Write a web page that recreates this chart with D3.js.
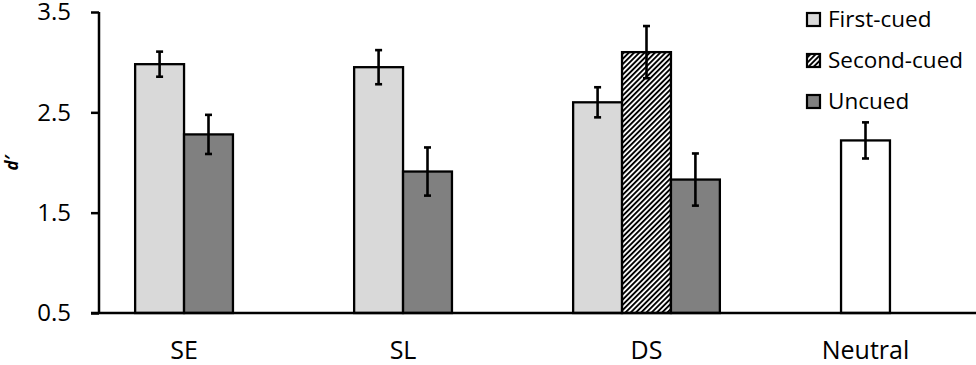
<!DOCTYPE html>
<html>
<head>
<meta charset="utf-8">
<script src="https://cdn.jsdelivr.net/npm/d3@7"></script>
<style>
  html, body { margin: 0; padding: 0; background: #fff; }
  svg { display: block; font-family: "Open Sans", sans-serif; }
</style>
</head>
<body>
<svg id="chart" width="976" height="365"></svg>
<script>
// ---- data ----
const categories = ["SE", "SL", "DS", "Neutral"];
const seriesNames = ["First-cued", "Second-cued", "Uncued"];
const yTicks = [0.5, 1.5, 2.5, 3.5];
// Each bar: category, slot within category, condition, mean d', error
const barCategory = ["SE", "SE", "SL", "SL", "DS", "DS", "DS", "Neutral"];
const barSlot     = [0, 1, 0, 1, 0, 1, 2, 1];
const barSeries   = ["First-cued", "Uncued", "First-cued", "Uncued", "First-cued", "Second-cued", "Uncued", "Neutral"];
const barValue    = [2.98, 2.28, 2.95, 1.91, 2.60, 3.10, 1.83, 2.22];
const barError    = [0.125, 0.195, 0.17, 0.24, 0.15, 0.26, 0.26, 0.18];

const bars = barValue.map((v, i) => ({
  cat: barCategory[i], slot: barSlot[i], series: barSeries[i], value: v, err: barError[i]
}));

const svg = d3.select("#chart");
const defs = svg.append("defs");
const pat = defs.append("pattern")
  .attr("id", "hatch").attr("patternUnits", "userSpaceOnUse")
  .attr("width", 3.7).attr("height", 3.7)
  .attr("patternTransform", "rotate(45)");
pat.append("rect").attr("width", 3.7).attr("height", 3.7).attr("fill", "#fff");
pat.append("rect").attr("width", 1.9).attr("height", 3.7).attr("fill", "#000");

const fills = {
  "First-cued": "#d9d9d9",
  "Second-cued": "url(#hatch)",
  "Uncued": "#808080",
  "Neutral": "#ffffff"
};

const mLeft = 99, mRight = 975, mTop = 12, mBottom = 313;

const y = d3.scaleLinear().domain([0.5, 3.5]).range([mBottom, mTop]);
const x0 = d3.scaleBand().domain(categories).range([mLeft, mRight]).padding(0);
const x1 = d3.scaleBand().domain([0, 1, 2])
  .range([x0.bandwidth() * 0.165, x0.bandwidth() * 0.835]).padding(0);

// bars
svg.append("g").selectAll("rect")
  .data(bars).join("rect")
  .attr("x", d => x0(d.cat) + x1(d.slot))
  .attr("y", d => y(d.value))
  .attr("width", x1.bandwidth())
  .attr("height", d => y(0.5) - y(d.value))
  .attr("fill", d => fills[d.series])
  .attr("stroke", "#000")
  .attr("stroke-width", 2.3);

// error bars
const eb = svg.append("g").attr("stroke", "#000").attr("stroke-width", 2.6);
bars.forEach(d => {
  const cx = x0(d.cat) + x1(d.slot) + x1.bandwidth() / 2;
  const y1 = y(d.value + d.err), y2 = y(d.value - d.err);
  eb.append("line").attr("x1", cx).attr("x2", cx).attr("y1", y1).attr("y2", y2);
  eb.append("line").attr("x1", cx - 3.5).attr("x2", cx + 3.5).attr("y1", y1).attr("y2", y1);
  eb.append("line").attr("x1", cx - 3.5).attr("x2", cx + 3.5).attr("y1", y2).attr("y2", y2);
});

// y axis
const yAxis = svg.append("g")
  .attr("transform", `translate(${mLeft},0)`)
  .call(d3.axisLeft(y).tickValues(yTicks).tickFormat(d3.format(".1f")).tickSize(8).tickPadding(20));
yAxis.select(".domain").attr("stroke", "#000").attr("stroke-width", 2.5)
  .attr("d", `M0,${mTop}V${mBottom}`);
yAxis.selectAll(".tick line").attr("stroke", "#000").attr("stroke-width", 2.5);
yAxis.selectAll(".tick text")
  .style("font-size", "24px")
  .style("font-family", "'Open Sans', sans-serif")
  .attr("fill", "#000");

// x axis baseline
svg.append("line")
  .attr("x1", mLeft - 8).attr("x2", mRight + 1)
  .attr("y1", y(0.5)).attr("y2", y(0.5))
  .attr("stroke", "#000").attr("stroke-width", 2.5);

// category labels (centred under each category's bars)
const catCenters = categories.map(c => {
  const bs = bars.filter(b => b.cat === c);
  const xs = bs.map(b => x0(c) + x1(b.slot) + x1.bandwidth() / 2);
  return (d3.min(xs) + d3.max(xs)) / 2;
});
svg.append("g").selectAll("text")
  .data(categories).join("text")
  .attr("x", (d, i) => catCenters[i])
  .attr("y", 359)
  .attr("text-anchor", "middle")
  .style("font-size", "25px")
  .attr("fill", "#000")
  .text(d => d);

// y title
svg.append("text")
  .attr("transform", "translate(18,163) rotate(-90)")
  .attr("text-anchor", "middle")
  .style("font-size", "17px")
  .attr("font-weight", "bold")
  .attr("font-style", "italic")
  .attr("fill", "#000")
  .text("d′");

// legend
const lg = svg.append("g");
seriesNames.forEach((s, i) => {
  const yy = 13 + i * 41;
  lg.append("rect").attr("x", 807).attr("y", yy).attr("width", 13).attr("height", 13)
    .attr("fill", fills[s]).attr("stroke", "#000").attr("stroke-width", 2.2);
  lg.append("text").attr("x", 828).attr("y", yy + 14)
    .style("font-size", "22.5px").attr("fill", "#000").text(s);
});
</script>
</body>
</html>
